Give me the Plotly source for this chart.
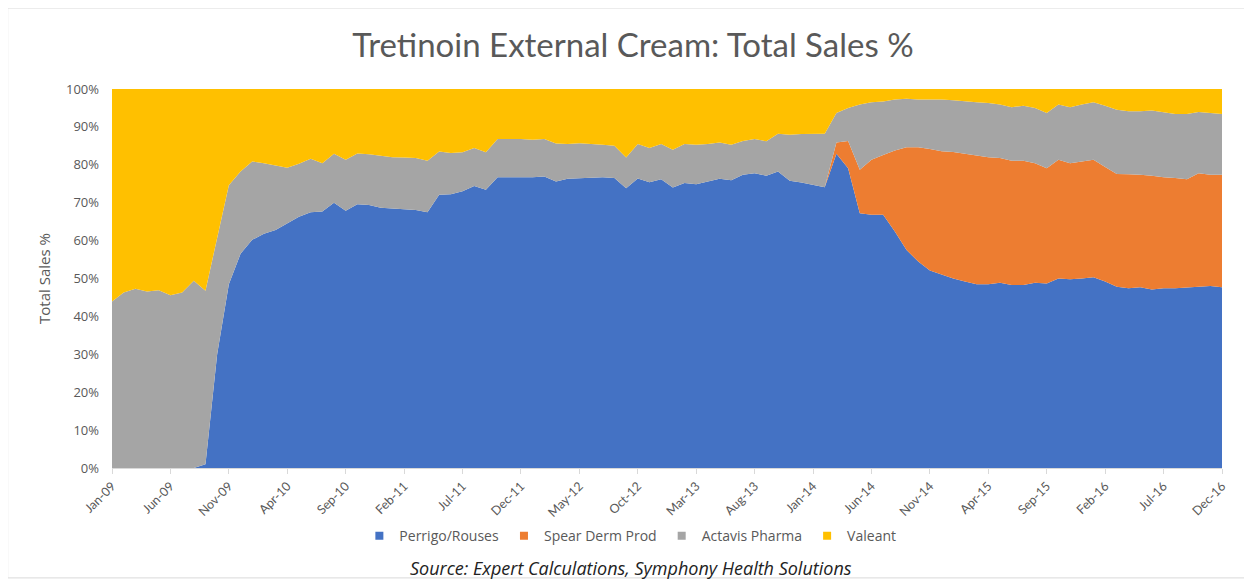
import plotly.graph_objects as go

month_names = ["Jan", "Feb", "Mar", "Apr", "May", "Jun", "Jul", "Aug", "Sep", "Oct", "Nov", "Dec"]
months = ["%s-%02d" % (m, y) for y in range(9, 17) for m in month_names]

tick_labels = ["Jan-09", "Jun-09", "Nov-09", "Apr-10", "Sep-10", "Feb-11", "Jul-11", "Dec-11",
               "May-12", "Oct-12", "Mar-13", "Aug-13", "Jan-14", "Jun-14", "Nov-14", "Apr-15",
               "Sep-15", "Feb-16", "Jul-16", "Dec-16"]

# shares in %, Jan-09 .. Dec-16
perrigo = [0, 0, 0, 0, 0, 0, 0, 0, 1.0, 30.0,
           48.5, 56.5, 60.2, 61.8, 62.8, 64.6, 66.3, 67.5, 67.7, 70.0,
           67.9, 69.6, 69.4, 68.7, 68.4, 68.3, 68.1, 67.5, 72.1, 72.2,
           73.0, 74.4, 73.4, 76.7, 76.7, 76.7, 76.7, 76.9, 75.6, 76.3,
           76.5, 76.7, 76.7, 76.5, 73.8, 76.4, 75.4, 76.2, 74.0, 75.2,
           74.9, 75.6, 76.3, 75.9, 77.4, 77.8, 77.1, 78.2, 75.8, 75.3,
           74.7, 74.1, 82.9, 79.1, 67.2, 66.8, 66.8, 62.4, 57.5, 54.5,
           52.1, 51.0, 50.0, 49.2, 48.5, 48.5, 48.9, 48.3, 48.3, 48.9,
           48.7, 50.0, 49.8, 50.0, 50.3, 49.2, 47.8, 47.4, 47.7, 47.1,
           47.4, 47.4, 47.7, 47.8, 48.0, 47.7]

spear = [0] * 62 + [3.0, 7.2, 11.5, 14.5, 15.8, 21.4, 27.1, 30.1,
                    32.1, 32.6, 33.4, 33.7, 33.9, 33.5, 32.9, 32.8, 32.8, 31.5,
                    30.4, 31.3, 30.6, 30.9, 31.0, 30.2, 29.8, 30.1, 29.7, 30.0,
                    29.3, 29.1, 28.5, 30.0, 29.4, 29.7]

actavis = [43.9, 46.3, 47.3, 46.6, 46.9, 45.6, 46.3, 49.4, 45.8, 31.0,
           26.1, 21.7, 20.7, 18.6, 17.0, 14.6, 14.0, 14.1, 12.7, 12.9,
           13.4, 13.4, 13.4, 13.7, 13.6, 13.6, 13.7, 13.6, 11.4, 10.9,
           10.3, 10.0, 9.9, 10.1, 10.1, 10.1, 9.9, 9.9, 10.0, 9.2,
           9.2, 8.9, 8.6, 8.5, 8.1, 9.1, 9.0, 9.3, 10.0, 10.3,
           10.4, 9.9, 9.6, 9.4, 8.9, 9.0, 9.1, 10.0, 12.1, 12.8,
           13.4, 14.1, 7.8, 8.7, 17.2, 15.2, 14.1, 13.4, 12.8, 12.6,
           13.0, 13.6, 13.6, 13.8, 14.1, 14.3, 14.1, 14.1, 14.5, 14.6,
           14.6, 14.6, 14.8, 15.0, 15.2, 16.2, 16.9, 16.6, 16.7, 17.2,
           17.2, 16.9, 17.2, 16.1, 16.3, 16.0]

valeant = [56.1, 53.7, 52.7, 53.4, 53.1, 54.4, 53.7, 50.6, 53.2, 39.0,
           25.4, 21.8, 19.1, 19.6, 20.2, 20.8, 19.7, 18.4, 19.6, 17.1,
           18.7, 17.0, 17.2, 17.6, 18.0, 18.1, 18.2, 18.9, 16.5, 16.9,
           16.7, 15.6, 16.7, 13.2, 13.2, 13.2, 13.4, 13.2, 14.4, 14.5,
           14.3, 14.4, 14.7, 15.0, 18.1, 14.5, 15.6, 14.5, 16.0, 14.5,
           14.7, 14.5, 14.1, 14.7, 13.7, 13.2, 13.8, 11.8, 12.1, 11.9,
           11.9, 11.8, 6.3, 5.0, 4.1, 3.5, 3.3, 2.8, 2.6, 2.8,
           2.8, 2.8, 3.0, 3.3, 3.5, 3.7, 4.1, 4.8, 4.4, 5.0,
           6.3, 4.1, 4.8, 4.1, 3.5, 4.4, 5.5, 5.9, 5.9, 5.7,
           6.1, 6.6, 6.6, 6.1, 6.3, 6.6]

series = [("Perrigo/Rouses", perrigo, "#4472C4"),
          ("Spear Derm Prod", spear, "#ED7D31"),
          ("Actavis Pharma", actavis, "#A5A5A5"),
          ("Valeant", valeant, "#FFC000")]

text_col = "#595959"
title_font = "Lato, Open Sans, sans-serif"
body_font = "Open Sans, sans-serif"

fig = go.Figure()
for name, vals, col in series:
    fig.add_trace(go.Scatter(x=months, y=vals, name=name, mode="lines", stackgroup="one",
                             line=dict(width=0, color=col), fillcolor=col,
                             legendgroup=name, showlegend=False))
# small square legend keys like the original
for name, vals, col in series:
    fig.add_trace(go.Scatter(x=[None], y=[None], name=name, mode="markers", legendgroup=name,
                             marker=dict(symbol="square", size=8, color=col)))

# page body has an 8px margin, so the figure is a bit smaller than the window
fig.update_layout(
    width=1244, height=571,
    margin=dict(l=104, r=30, t=81, b=111),
    paper_bgcolor="white", plot_bgcolor="white",
    font=dict(family=body_font, color=text_col, size=13),
    title=dict(text="Tretinoin External Cream: Total Sales %", x=0.5024, y=0.935,
               xanchor="center", yanchor="middle",
               font=dict(family=title_font, size=33, color=text_col)),
    legend=dict(orientation="h", x=0.467, y=-0.18, xanchor="center", yanchor="middle",
                font=dict(size=14, color=text_col), itemwidth=30, traceorder="normal"),
    showlegend=True,
)

fig.update_xaxes(type="category", categoryorder="array", categoryarray=months,
                 range=[0, len(months) - 1], tickmode="array", tickvals=tick_labels,
                 ticktext=tick_labels, tickangle=-45,
                 tickfont=dict(family=title_font, size=12.5, color=text_col),
                 showline=True, linecolor="#d9d9d9", ticks="outside", ticklen=5,
                 tickcolor="#d9d9d9", showgrid=False, zeroline=False)

fig.update_yaxes(range=[0, 100], dtick=10, ticksuffix="%", showgrid=False, zeroline=False,
                 showline=False, tickfont=dict(size=13, color=text_col), ticklabelstandoff=12,
                 title=dict(text="Total Sales %", font=dict(size=15, color=text_col), standoff=11))

fig.add_annotation(text="<i>Source: Expert Calculations, Symphony Health Solutions</i>",
                   xref="paper", yref="paper", x=0.4676, y=-0.264, xanchor="center",
                   yanchor="middle", showarrow=False, font=dict(size=18, color="#222222"))

# outer chart frame
fig.add_shape(type="rect", xref="paper", yref="paper", x0=-0.094, x1=1.0207, y0=-0.29, y1=1.2137,
              line=dict(color="#d9d9d9", width=1), fillcolor="rgba(0,0,0,0)", layer="below")

fig.write_html("out.html")
